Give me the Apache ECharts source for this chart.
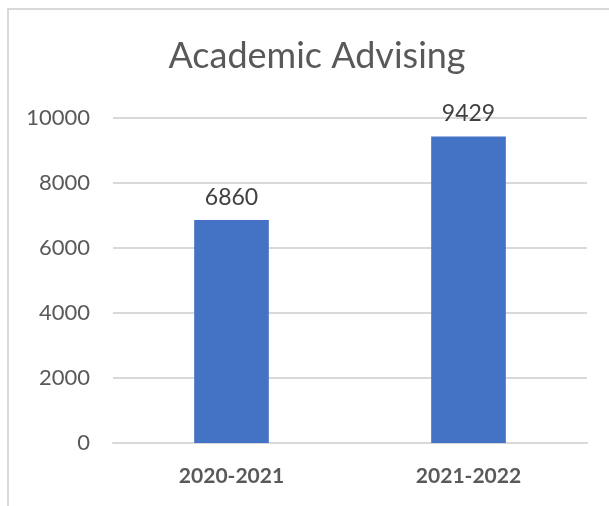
<!DOCTYPE html>
<html>
<head>
<meta charset="utf-8">
<script src="https://cdn.jsdelivr.net/npm/echarts@6/dist/echarts.min.js"></script>
<style>
  html, body { margin: 0; padding: 0; background: #fff; }
  #frame {
    position: absolute; left: 7px; top: 8px; width: 640px; height: 540px;
    border: 2px solid #d9d9d9; box-sizing: border-box;
  }
  #chart { position: absolute; left: 0; top: 0; width: 609px; height: 506px; }
</style>
</head>
<body>
<div id="frame"></div>
<div id="chart"></div>
<script>
  // chart data
  const years = ['2020-2021', '2021-2022']
  const sessions = [6860, 9429]
  const yTicks = [0, 2000, 4000, 6000, 8000, 10000]

  const chart = echarts.init(document.getElementById('chart'))
  chart.setOption({
    animation: false,
    textStyle: { fontFamily: 'Lato' },
    title: {
      text: 'Academic Advising',
      left: 312,
      top: 33,
      textAlign: 'center',
      textStyle: { fontSize: 36, fontWeight: 400, color: '#595959', fontFamily: 'Lato' }
    },
    grid: { left: 113, right: 22, top: 118, bottom: 63, containLabel: false },
    xAxis: {
      type: 'category',
      data: years,
      axisLine: { lineStyle: { color: '#d9d9d9', width: 2 } },
      axisTick: { show: false },
      axisLabel: { fontSize: 21, fontWeight: 'bold', color: '#595959', margin: 23 }
    },
    yAxis: {
      type: 'value',
      min: yTicks[0],
      max: yTicks[yTicks.length - 1],
      interval: 2000,
      axisLine: { show: false },
      axisTick: { show: false },
      axisLabel: { fontSize: 22, color: '#595959', margin: 23, formatter: v => String(v) },
      splitLine: { lineStyle: { color: '#d9d9d9', width: 2 } }
    },
    series: [{
      type: 'bar',
      data: sessions,
      barWidth: '31.5%',
      itemStyle: { color: '#4472C4' },
      label: { show: true, position: 'top', distance: 11, fontSize: 23, color: '#404040' }
    }]
  })
</script>
</body>
</html>
